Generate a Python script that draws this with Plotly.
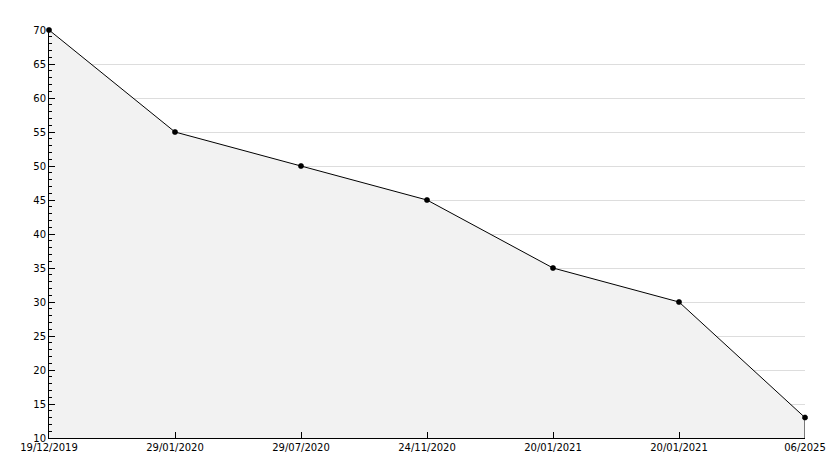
import plotly.graph_objects as go

dates = ["19/12/2019", "29/01/2020", "29/07/2020", "24/11/2020", "20/01/2021", "20/01/2021", "06/2025"]
values = [70, 55, 50, 45, 35, 30, 13]
y_min, y_max = 10, 70

xs = list(range(len(dates)))

fig = go.Figure()
fig.add_trace(go.Scatter(
    x=xs, y=values, mode="lines+markers",
    line=dict(color="black", width=1),
    marker=dict(symbol="octagon", size=6, color="black"),
    fill="tozeroy", fillcolor="#f2f2f2",
    hoverinfo="x+y", showlegend=False, cliponaxis=False,
))
# closing edge of the filled area at the last point
fig.add_trace(go.Scatter(
    x=[xs[-1], xs[-1]], y=[values[-1], y_min], mode="lines",
    line=dict(color="black", width=1), hoverinfo="skip", showlegend=False,
    cliponaxis=False,
))

font = dict(family="DejaVu Sans", size=10, color="black")
fig.update_layout(
    width=834, height=468,
    margin=dict(l=41, r=37, t=22, b=38),
    paper_bgcolor="white", plot_bgcolor="white",
    font=font,
    xaxis=dict(
        range=[xs[0], xs[-1]], tickmode="array", tickvals=xs, ticktext=dates,
        showgrid=False, zeroline=False, showline=True, linecolor="black", linewidth=1,
        ticks="inside", ticklen=6, tickcolor="black", tickfont=font,
    ),
    yaxis=dict(
        range=[y_min, y_max], dtick=5, tick0=10,
        showgrid=True, gridcolor="#dddddd", gridwidth=1,
        zeroline=False, showline=True, linecolor="black", linewidth=1,
        ticks="inside", ticklen=6, tickcolor="black", tickfont=font,
        minor=dict(dtick=1, ticks="inside", ticklen=3, tickcolor="black", showgrid=False),
    ),
)
fig.write_html("out.html")
